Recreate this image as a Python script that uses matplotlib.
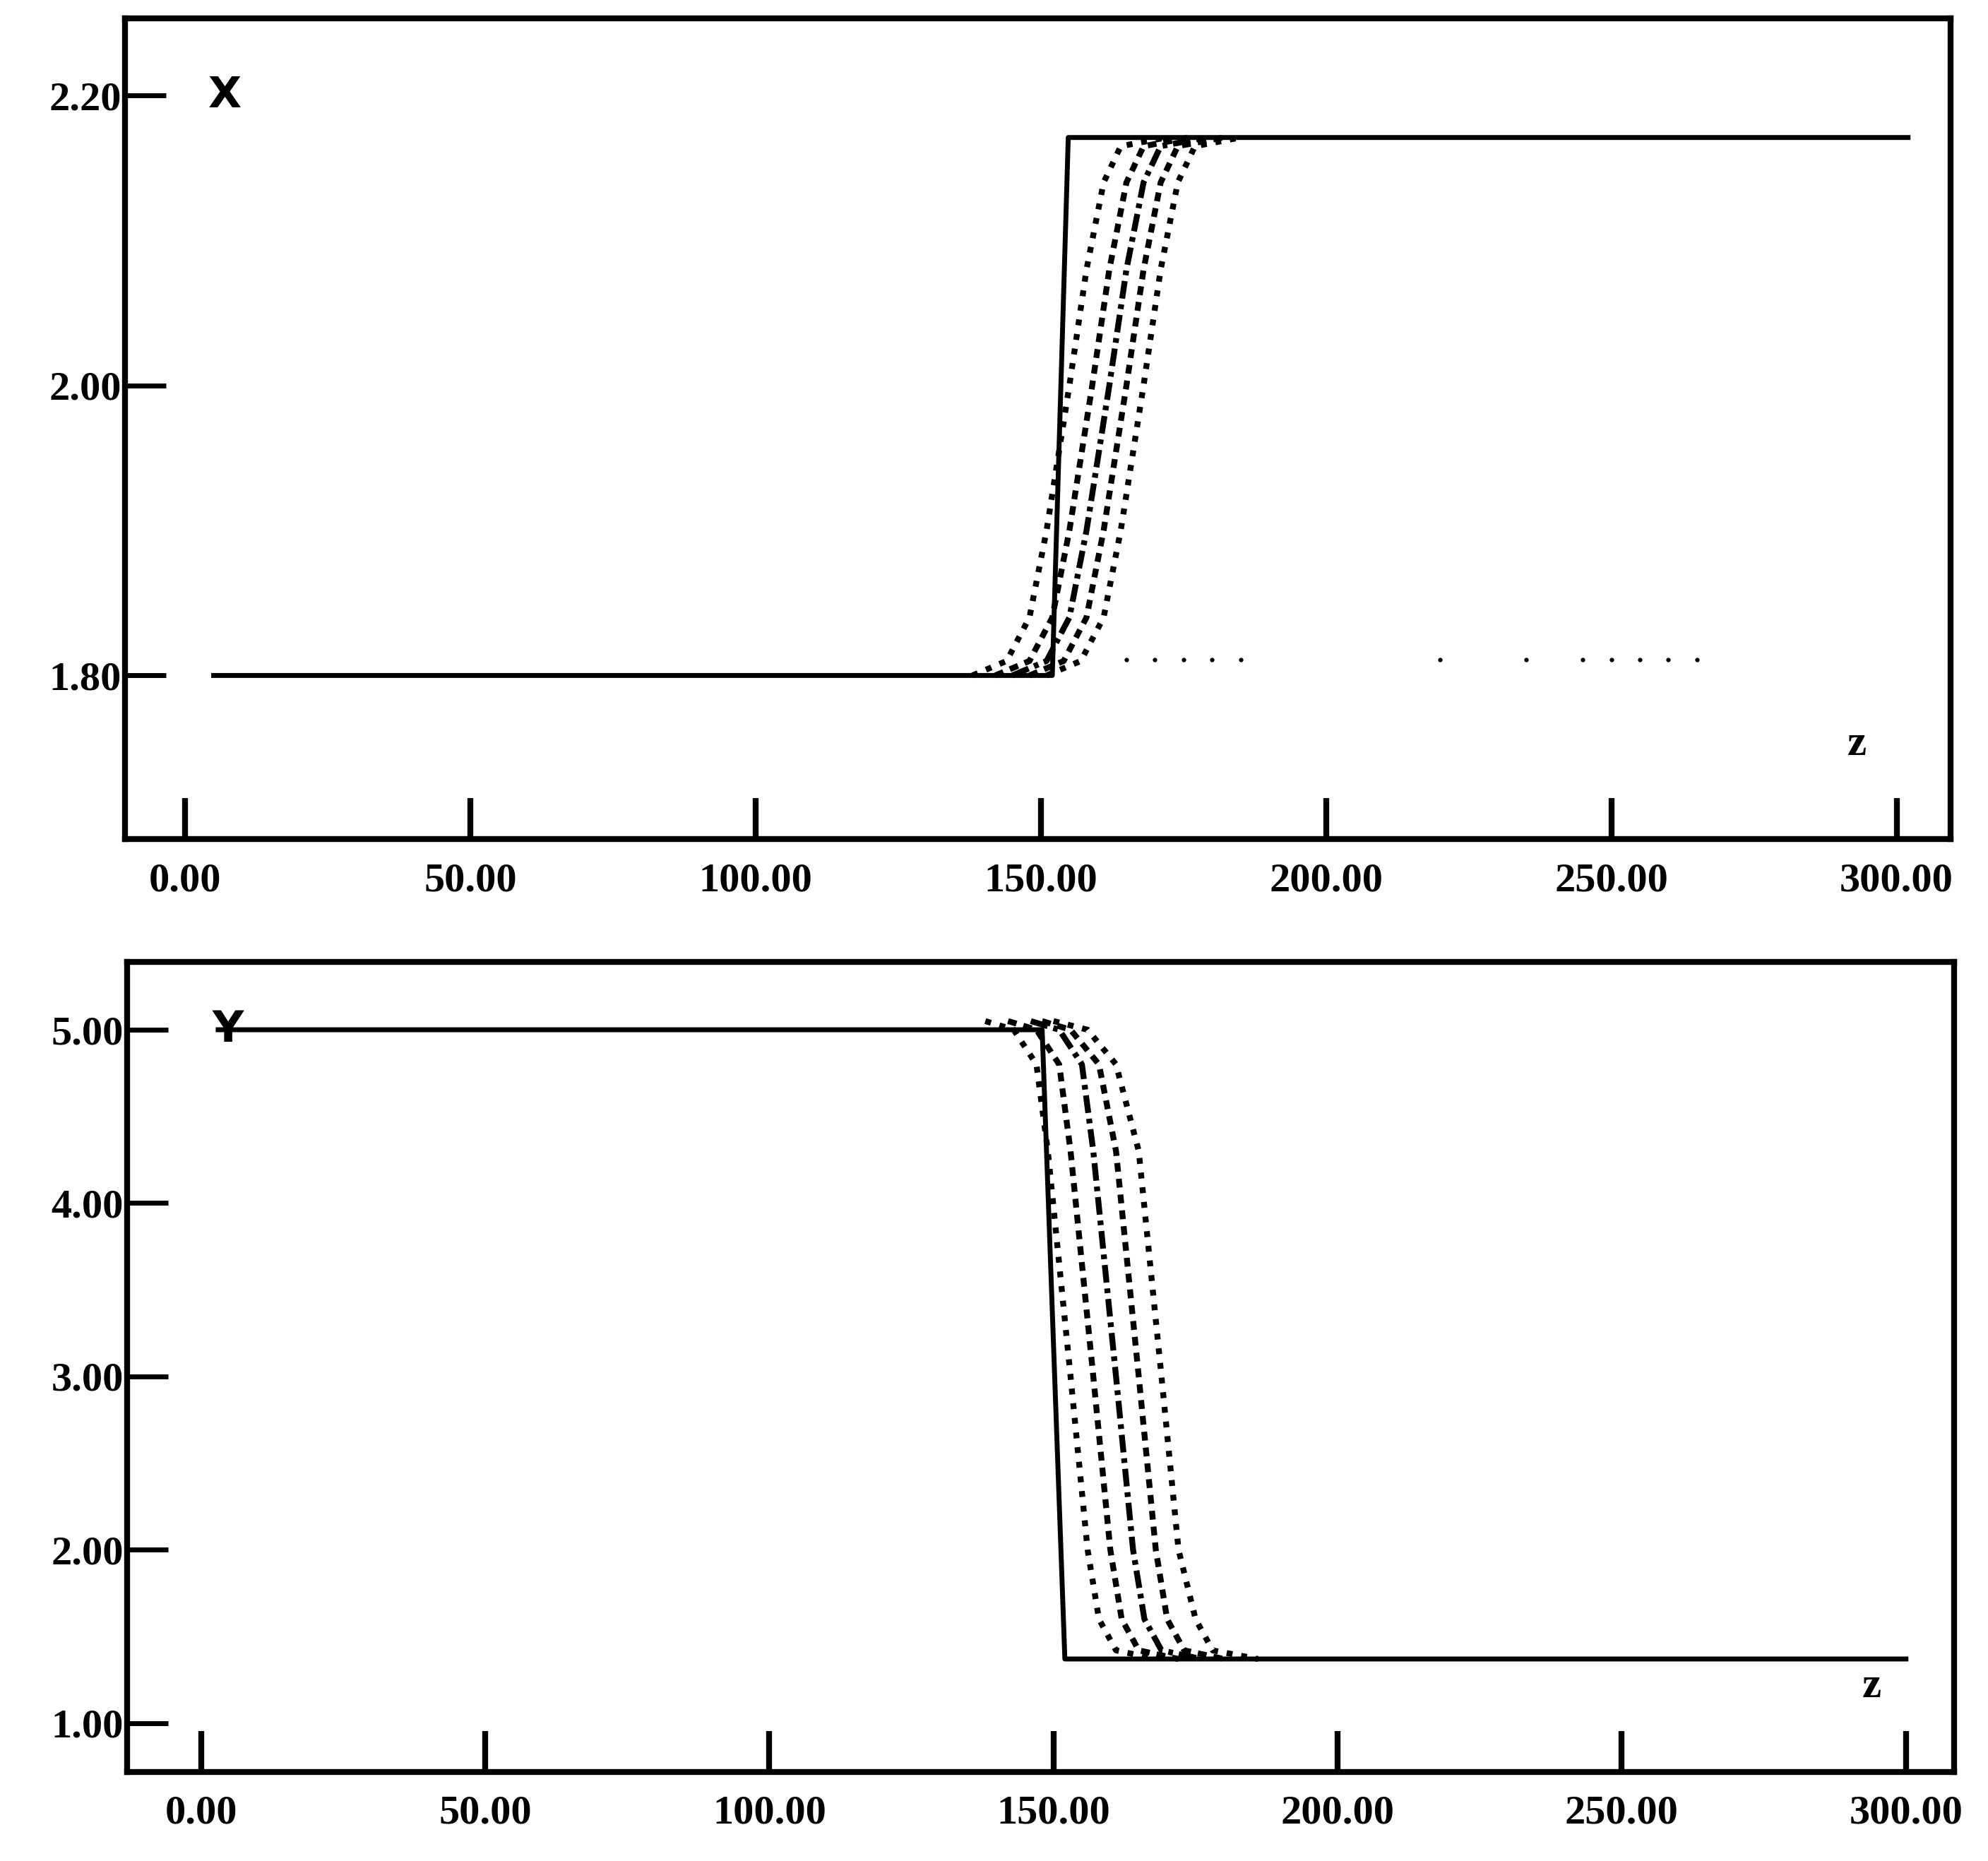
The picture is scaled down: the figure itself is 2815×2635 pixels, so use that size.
import matplotlib.pyplot as plt

# --- data ---
x_ticks = [0, 50, 100, 150, 200, 250, 300]
x_labels = ['0.00', '50.00', '100.00', '150.00', '200.00', '250.00', '300.00']

# top panel (X)
top_yticks = [1.80, 2.00, 2.20]
top_ylabels = ['1.80', '2.00', '2.20']
top_step_z = [5, 152, 154.8, 302]
top_step_v = [1.80, 1.80, 2.171, 2.171]
top_curves_v = [1.80, 1.81, 1.84, 1.90, 2.00, 2.08, 2.14, 2.165, 2.171]
top_curves_z = [
    [138, 144, 148, 151, 155, 158, 161, 164, 172],
    [142, 148, 152, 155, 159, 162, 165, 168, 176],
    [145, 151, 155, 158, 162, 165, 168, 171, 179],
    [148, 154, 158, 161, 165, 168, 171, 174, 182],
    [151, 157, 161, 164, 168, 171, 174, 177, 185],
]
top_tail_z = [165, 170, 175, 180, 185, 220, 235, 245, 250, 255, 260, 265]
top_tail_v = [1.811] * len(top_tail_z)

# bottom panel (Y)
bot_yticks = [1, 2, 3, 4, 5]
bot_ylabels = ['1.00', '2.00', '3.00', '4.00', '5.00']
bot_step_z = [3, 148, 152, 300]
bot_step_v = [5.0, 5.0, 1.37, 1.37]
bot_curves_v = [5.05, 5.0, 4.8, 4.3, 3.0, 2.0, 1.6, 1.42, 1.37]
bot_curves_z = [
    [138, 143, 147, 149, 153, 156, 158, 161, 168],
    [142, 147, 151, 153, 157, 160, 162, 165, 172],
    [146, 151, 155, 157, 161, 164, 166, 169, 176],
    [148, 153, 158, 161, 165, 168, 170, 173, 180],
    [150, 156, 161, 165, 169, 172, 175, 178, 186],
]

fig = plt.figure(figsize=(28.15, 26.35), dpi=100)
plt.rcParams['font.family'] = 'Liberation Serif'
plt.rcParams['font.weight'] = 'bold'

ax1 = fig.add_axes([0.063, 0.549, 0.918, 0.441])
ax2 = fig.add_axes([0.064, 0.048, 0.919, 0.435])

styles = [(0, (1, 1.5)), (0, (1.5, 1.2)), (0, (3, 1, 0.8, 1)), (0, (1.5, 1.2)), (0, (1, 1.5))]

ax1.plot(top_step_z, top_step_v, color='black', lw=5)
for zs, ls in zip(top_curves_z, styles):
    ax1.plot(zs, top_curves_v, color='black', lw=6, linestyle=ls)
ax1.plot(top_tail_z, top_tail_v, 'k.', ms=7)
ax1.set_xlim(-10.5, 309.4)
ax1.set_ylim(1.687, 2.253)
ax1.set_yticks(top_yticks, top_ylabels)
ax1.text(4, 2.20, 'X', fontsize=44, va='center', ha='left', family='DejaVu Sans')
ax1.text(293, 1.745, 'z', fontsize=44, ha='center')

ax2.plot(bot_step_z, bot_step_v, color='black', lw=5)
for zs, ls in zip(bot_curves_z, styles):
    ax2.plot(zs, bot_curves_v, color='black', lw=6, linestyle=ls)
ax2.set_xlim(-13, 308.5)
ax2.set_ylim(0.72, 5.39)
ax2.set_yticks(bot_yticks, bot_ylabels)
ax2.text(2, 5.0, 'Y', fontsize=44, va='center', ha='left', family='DejaVu Sans')
ax2.text(294, 1.15, 'z', fontsize=44, ha='center')

for ax in (ax1, ax2):
    ax.set_xticks(x_ticks, x_labels)
    for s in ax.spines.values():
        s.set_linewidth(6)
    ax.tick_params(axis='y', direction='in', length=42, width=5, labelsize=42, pad=4)
    ax.tick_params(axis='x', direction='in', length=42, width=6, labelsize=42, pad=24)

fig.savefig('out.png')
